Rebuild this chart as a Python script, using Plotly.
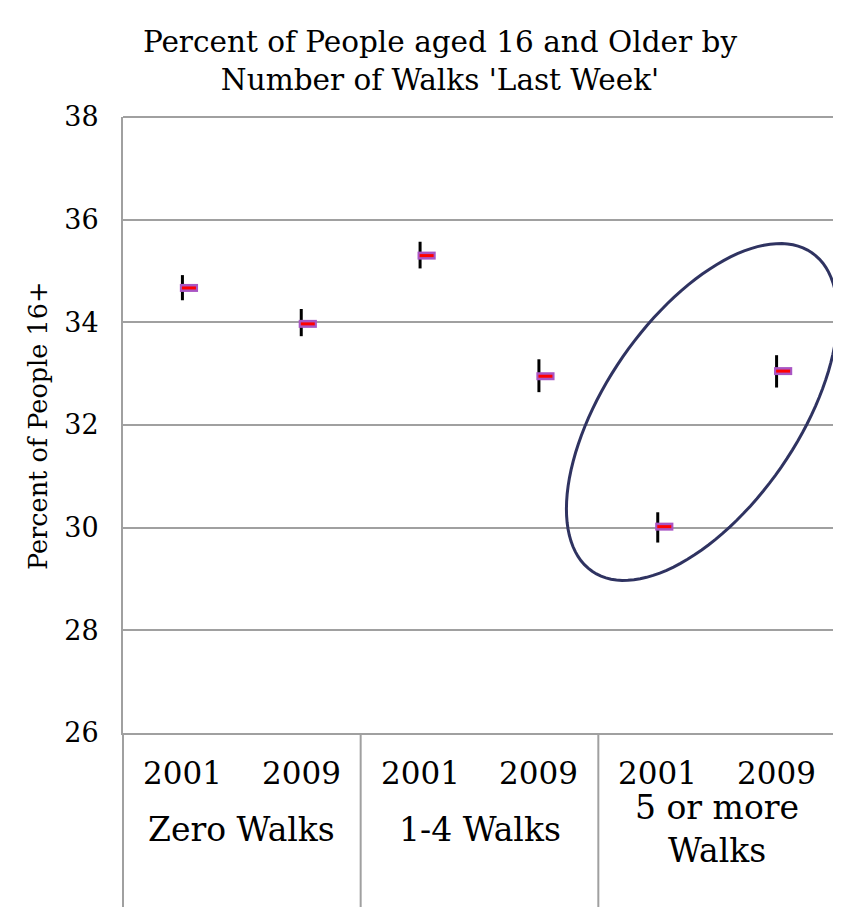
import numpy as np
import plotly.graph_objects as go

groups = ["Zero Walks", "1-4 Walks", "5 or more<br>Walks"]
years = ["2001", "2009", "2001", "2009", "2001", "2009"]
high = [34.92, 34.26, 35.57, 33.28, 30.30, 33.36]
low = [34.43, 33.73, 35.05, 32.64, 29.71, 32.73]
close = [34.67, 33.97, 35.30, 32.95, 30.02, 33.05]

FONT = "Georgia, 'DejaVu Serif', serif"
OFF = 8  # default page body margin
W, H = 841 - OFF, 907 - OFF
ML, MR, MT = 123 - OFF, 5, 117 - OFF
PB = 733 - OFF  # plot bottom in figure px
MB = H - PB
PW, PH = W - ML - MR, PB - MT


def paper_x(page_x):
    return (page_x - OFF - ML) / PW


def paper_y(page_y):
    return (PB - (page_y - OFF)) / PH


x = np.arange(len(years))
mark_off = 0.055

fig = go.Figure()
fig.add_trace(go.Scatter(
    x=x, y=close, mode="markers",
    marker=dict(size=1, opacity=0),
    error_y=dict(type="data", symmetric=False,
                 array=[h - c for h, c in zip(high, close)],
                 arrayminus=[c - l for c, l in zip(close, low)],
                 width=0, thickness=3, color="black"),
    showlegend=False, hoverinfo="skip"))
fig.add_trace(go.Scatter(
    x=x + mark_off, y=close, mode="markers",
    marker=dict(symbol="line-ew", size=13, line=dict(width=8, color="#a955c4")),
    showlegend=False))
fig.add_trace(go.Scatter(
    x=x + mark_off, y=close, mode="markers",
    marker=dict(symbol="line-ew", size=10, line=dict(width=3, color="#ff0000")),
    showlegend=False))

# ellipse highlight
cxp, cyp, a, b, th = 702, 412, 193.5, 96.5, np.deg2rad(55.4)
t = np.linspace(0, 2 * np.pi, 121)
px = cxp + a * np.cos(th) * np.cos(t) - b * np.sin(th) * np.sin(t)
py = cyp - (a * np.sin(th) * np.cos(t) + b * np.cos(th) * np.sin(t))
path = "M " + " L ".join(f"{paper_x(u):.5f},{paper_y(v):.5f}" for u, v in zip(px, py)) + " Z"
fig.add_shape(type="path", path=path, xref="paper", yref="paper",
              line=dict(color="#2f3361", width=3))

# top gridline
fig.add_shape(type="line", xref="paper", yref="paper", x0=0, x1=1, y0=1, y1=1,
              line=dict(color="#a0a0a0", width=2), layer="below")

# category axis boxes
ybot = -MB / PH
for xx in [0, 1/3, 2/3, 1]:
    fig.add_shape(type="line", xref="paper", yref="paper", x0=xx, x1=xx, y0=0, y1=ybot,
                  line=dict(color="#a0a0a0", width=2))

for i, yr in enumerate(years):
    fig.add_annotation(x=i, y=paper_y(773), xref="x", yref="paper", text=yr, showarrow=False,
                       font=dict(family=FONT, size=31, color="black"), yanchor="middle")
for j, g in enumerate(groups):
    fig.add_annotation(x=2 * j + 0.5, y=paper_y(829), xref="x", yref="paper", text=g, showarrow=False,
                       font=dict(family=FONT, size=33, color="black"), yanchor="middle")

fig.add_annotation(x=paper_x(38), y=paper_y(426), xref="paper", yref="paper",
                   text="Percent of People 16+", textangle=-90, showarrow=False,
                   xanchor="center", yanchor="middle",
                   font=dict(family=FONT, size=25.5, color="black"))

fig.update_layout(
    width=W, height=H, margin=dict(l=ML, r=MR, t=MT, b=MB),
    paper_bgcolor="white", plot_bgcolor="white",
    title=dict(text="Percent of People aged 16 and Older by<br>Number of Walks 'Last Week'",
               x=(440 - OFF) / W, xref="container", xanchor="center",
               y=1 - (60 - OFF - 8) / H, yref="container", yanchor="middle",
               font=dict(family=FONT, size=29.5, color="black")),
    xaxis=dict(range=[-0.5, 5.5], showticklabels=False, showgrid=False, zeroline=False,
               showline=True, linecolor="#a0a0a0", linewidth=2, ticks=""),
    yaxis=dict(range=[26, 38], dtick=2, showgrid=True, gridcolor="#a0a0a0", gridwidth=2,
               zeroline=False, showline=True, linecolor="#a0a0a0", linewidth=2, ticks="",
               ticklabelstandoff=17,
               tickfont=dict(family=FONT, size=27, color="black")),
)
fig.write_html("out.html")
